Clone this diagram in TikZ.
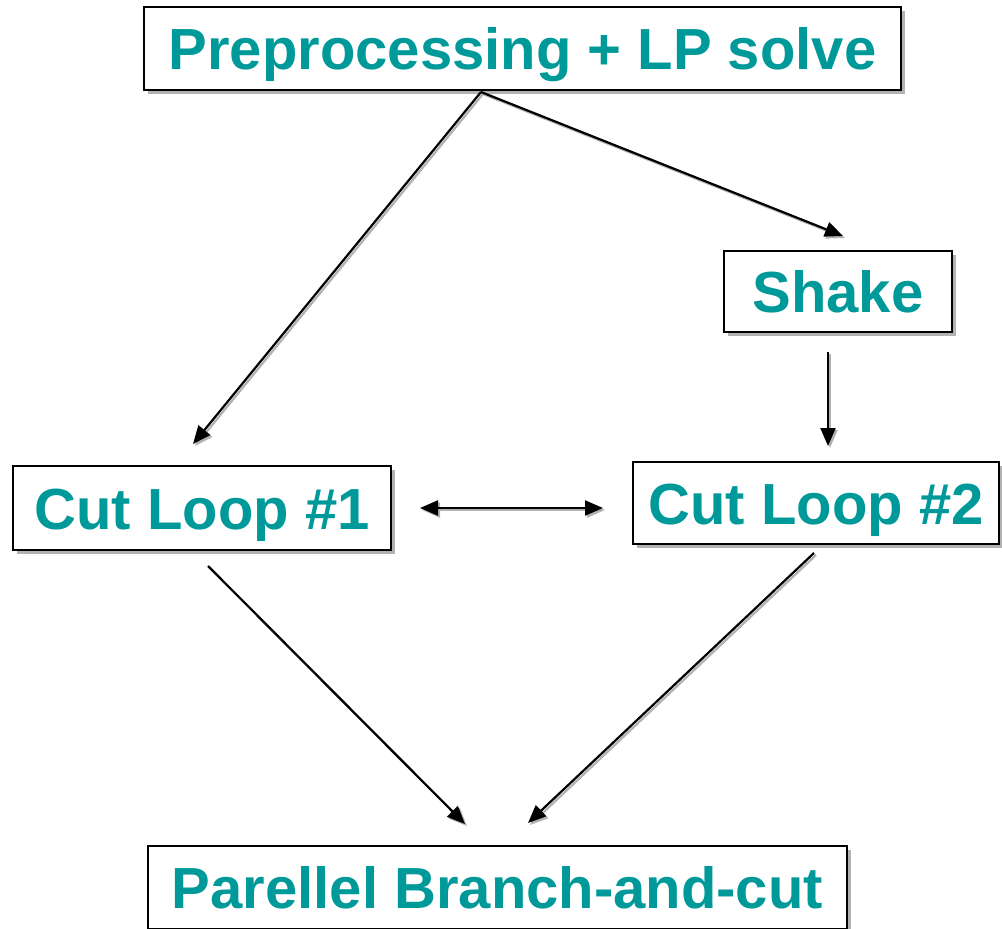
\documentclass[tikz,border=0pt]{standalone}
\usepackage{fontspec}
\setmainfont{Liberation Sans}
\usetikzlibrary{arrows.meta,shadows}
\definecolor{tealtext}{RGB}{0,153,153}
\begin{document}
\begin{tikzpicture}[x=1pt,y=-1pt,
  box/.style={draw=black, line width=2.4pt, fill=white, inner sep=0pt,
    text height=42pt, text depth=0pt,
    font=\fontsize{58}{60}\selectfont\bfseries, text=tealtext,
    general shadow={shadow xshift=4pt, shadow yshift=-4pt, fill=gray!60}},
  conn/.style={line width=2.2pt, -{Triangle[length=18pt,width=15pt]},
    preaction={draw=gray!60, line width=2.2pt, transform canvas={shift={(2pt,-2pt)}}}},
  conn2/.style={line width=2.2pt, {Triangle[length=18pt,width=15pt]}-{Triangle[length=18pt,width=15pt]},
    preaction={draw=gray!60, line width=2.2pt, transform canvas={shift={(2pt,-2pt)}}}}
]
\useasboundingbox (0,0) rectangle (1002,929);
\node[box, minimum width=757pt, minimum height=83pt] (pre) at (522.5,48.5) {Preprocessing + LP solve};
\node[box, minimum width=228pt, minimum height=81pt] (shake) at (838,291.5) {Shake\ };
\node[box, minimum width=378pt, minimum height=84pt] (c1) at (202,508) {Cut Loop \#1};
\node[box, minimum width=366pt, minimum height=82pt] (c2) at (816,503) {Cut Loop \#2};
\node[box, minimum width=699pt, minimum height=83pt] (par) at (497.5,887.5) {Parellel Branch-and-cut};

\coordinate (preS) at (481,92);
\coordinate (c1N) at (193,444);
\coordinate (shakeN) at (843,236);
\coordinate (shakeS) at (828,352);
\coordinate (c2N) at (828,446);
\coordinate (c1E) at (420,508);
\coordinate (c2W) at (603,508);
\coordinate (c1S) at (208,566);
\coordinate (parNL) at (465,824);
\coordinate (c2S) at (814,553);
\coordinate (parNR) at (528,823);

\draw[conn] (preS) -- (c1N);
\draw[conn] (preS) -- (shakeN);
\draw[conn] (shakeS) -- (c2N);
\draw[conn2] (c1E) -- (c2W);
\draw[conn] (c1S) -- (parNL);
\draw[conn] (c2S) -- (parNR);
\end{tikzpicture}
\end{document}
